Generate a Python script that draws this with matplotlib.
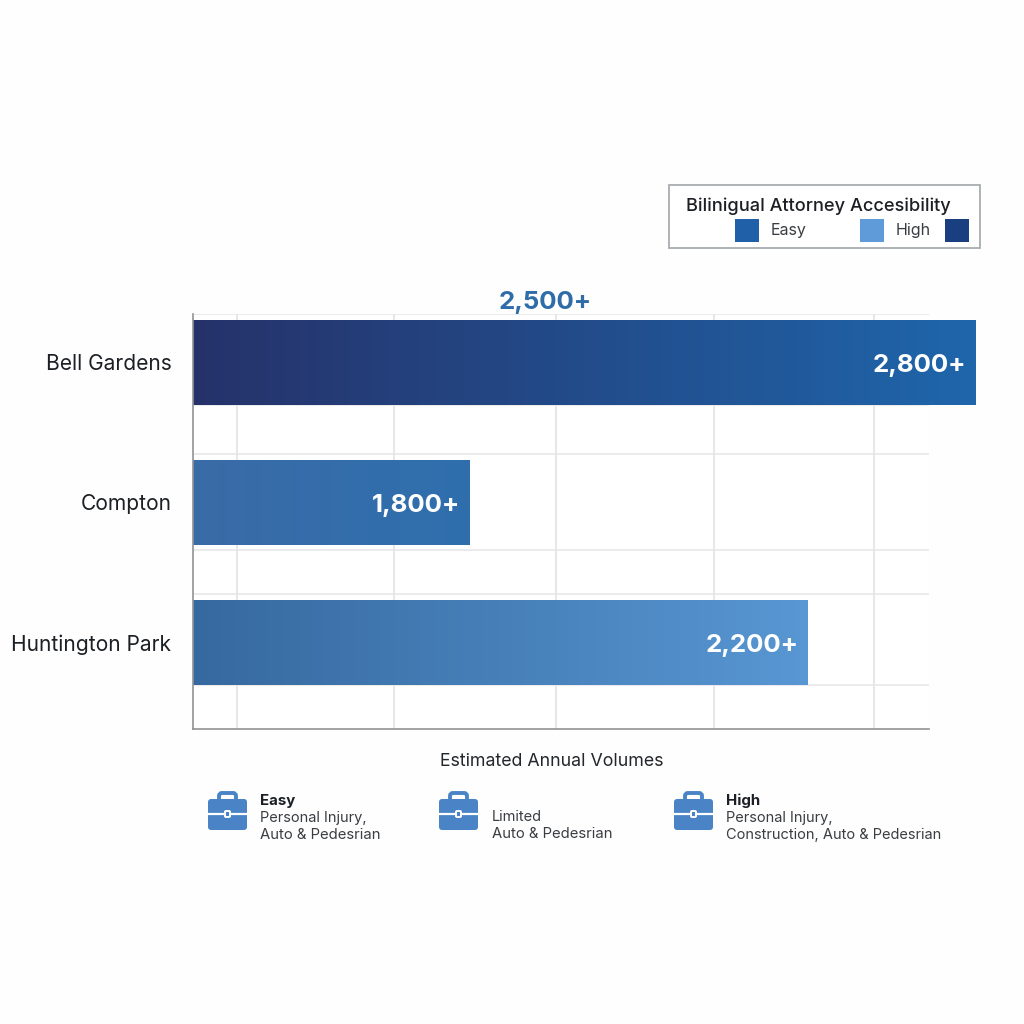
import numpy as np
import matplotlib
matplotlib.use("Agg")
import matplotlib.pyplot as plt
from matplotlib.colors import LinearSegmentedColormap
from matplotlib.patches import FancyBboxPatch, Rectangle

plt.rcParams['font.family'] = ['Inter', 'DejaVu Sans']

# Data
categories = ["Bell Gardens", "Compton", "Huntington Park"]
bar_lengths = [2800, 990, 2200]          # drawn lengths
value_labels = ["2,800+", "1,800+", "2,200+"]
top_label = "2,500+"
top_label_x = 1260
gradients = [("#26326a", "#1f66ab"), ("#3a6ba6", "#2f6fae"), ("#36699f", "#5897d3")]
grid_x = [157, 720, 1300, 1866, 2439]
grid_y = [-0.346, 0.303, 0.653, 1.339, 1.653, 2.303]
xlabel = "Estimated Annual Volumes"
legend_title = "Bilinigual Attorney Accesibility"
legend_names = ["Easy", "High"]
legend_colors = ["#2060a8", "#5f9bd8", "#1a3f80"]
notes = [("Easy", ["Personal Injury,", "Auto & Pedesrian"]),
         ("", ["Limited", "Auto & Pedesrian"]),
         ("High", ["Personal Injury,", "Construction, Auto & Pedesrian"])]

W = 1024
BG = "#fefefe"
fig = plt.figure(figsize=(W / 100, W / 100), dpi=100, facecolor=BG)

# Main chart
L, R, T, B = 193, 929, 314, 729
ax = fig.add_axes([L / W, 1 - B / W, (R - L) / W, (B - T) / W])
ax.set_facecolor("white")
ax.set_xlim(0, 2635)
ax.set_ylim(2.618, -0.346)
for x in grid_x:
    ax.axvline(x, color="#dfe0e2", lw=1.1, zorder=1)
for y in grid_y:
    ax.axhline(y, color="#e5e6e8", lw=1.1, zorder=1)
height = 0.607
for i, (n, (c0, c1)) in enumerate(zip(bar_lengths, gradients)):
    cmap = LinearSegmentedColormap.from_list("g", [c0, c1])
    ax.imshow(np.linspace(0, 1, 256)[None, :], cmap=cmap, aspect="auto",
              extent=[0, n, i + height / 2, i - height / 2], zorder=2, clip_on=False)
    ax.annotate(value_labels[i], (n, i), xytext=(-6.5, -2), textcoords="offset points",
                ha="right", va="center", color="white", fontsize=18.6, fontweight="bold",
                zorder=3, annotation_clip=False)
ax.set_xlim(0, 2635)
ax.set_ylim(2.618, -0.346)
ax.annotate(top_label, (top_label_x, -0.346), xytext=(0, 0), textcoords="offset points",
            ha="center", va="bottom", color="#2f6ca8", fontsize=18.6, fontweight="bold",
            annotation_clip=False)
ax.set_xticks(grid_x)
ax.set_xticklabels([])
ax.set_yticks(range(3))
ax.set_yticklabels(categories, fontsize=15.1, color="#1c1f24")
ax.tick_params(axis="both", length=0)
ax.tick_params(axis="y", pad=15.6)
for s in ("top", "right"):
    ax.spines[s].set_visible(False)
for s in ("left", "bottom"):
    ax.spines[s].set_color("#909294")
    ax.spines[s].set_linewidth(1.2)

# Overlay in pixel coordinates for legend, caption and icons
ov = fig.add_axes([0, 0, 1, 1], facecolor="none")
ov.set_xlim(0, W)
ov.set_ylim(W, 0)
ov.axis("off")

ov.text(552, 761.5, xlabel, ha="center", va="center", fontsize=12.8, color="#24272b")

ov.add_patch(Rectangle((668.5, 185), 311.5, 63, fc="white", ec="#a9adb0", lw=1.3))
ov.text(818.5, 206, legend_title, ha="center", va="center", fontsize=13.1, color="#1c1f24", fontweight="medium")
for x0, c in zip([735, 860, 945], legend_colors):
    ov.add_patch(Rectangle((x0, 219), 24, 22.5, fc=c, ec="none"))
for x0, name in zip([771, 896], legend_names):
    ov.text(x0, 231, name, ha="left", va="center", fontsize=11.5, color="#3a3d42")


def briefcase(x, y):
    c = "#4a84c6"
    ov.add_patch(FancyBboxPatch((x + 11, y), 17, 9, boxstyle="round,pad=0,rounding_size=3",
                                fc="none", ec=c, lw=2.8))
    ov.add_patch(FancyBboxPatch((x, y + 6), 39, 31, boxstyle="round,pad=0,rounding_size=3",
                                fc=c, ec="none", zorder=3))
    ov.plot([x, x + 39], [y + 21, y + 21], color="white", lw=1.6, zorder=4, solid_capstyle="butt")
    ov.add_patch(FancyBboxPatch((x + 17, y + 18), 5, 6, boxstyle="round,pad=0,rounding_size=1",
                                fc=c, ec="white", lw=1.4, zorder=5))


for ix, tx, (head, lines) in zip([208, 439, 674], [260, 492, 726], notes):
    briefcase(ix, 793)
    if head:
        ov.text(tx, 801, head, ha="left", va="center", fontsize=10.8, fontweight="bold", color="#1c1f24")
        ys = [818, 835]
    else:
        ys = [817, 834]
    for yy, line in zip(ys, lines):
        ov.text(tx, yy, line, ha="left", va="center",
                fontsize=10.7 if line.startswith("Auto") else 10.5, color="#3a3d42")

fig.savefig("out.png", dpi=100, facecolor=BG)
